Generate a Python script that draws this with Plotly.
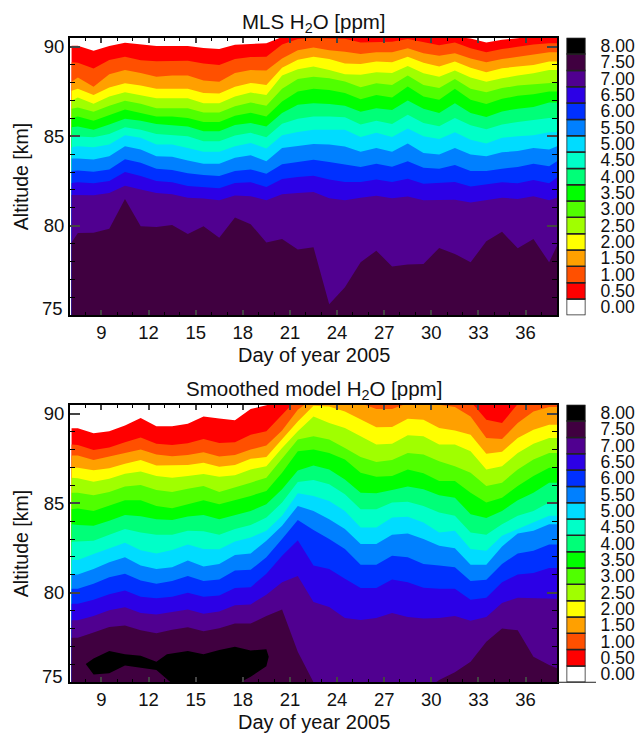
"""MLS and smoothed model H2O contours, day of year against altitude."""

import plotly.graph_objects as go

FONT = "Liberation Sans"
WIDTH, HEIGHT = 640, 734

days = [7.1, 7.5, 8.5, 9.5, 10.5, 11.5, 12.5, 13.5, 14.5, 15.5, 16.5, 17.5, 18.5, 19.5, 20.5, 21.5, 22.5,
        23.5, 24.5, 25.5, 26.5, 27.5, 28.5, 29.5, 30.5, 31.5, 32.5, 33.5, 34.5, 35.5, 36.5, 37.5, 38.0]

levels = [0.0, 0.5, 1.0, 1.5, 2.0, 2.5, 3.0, 3.5, 4.0, 4.5, 5.0, 5.5, 6.0, 6.5, 7.0, 7.5, 8.0]
colors = ["#ffffff", "#ff0000", "#ff5000", "#ffa000", "#ffff00", "#a0ff00", "#50ff00", "#00ff00", "#00ff78",
          "#00ffc8", "#00dcff", "#0080ff", "#0030ff", "#2c00e6", "#500090", "#400040", "#000000"]

# altitude [km] of each contour level, MLS
mls_05 = [90.06, 90.06, 89.78, 90.04, 90.22, 90.11, 90.04, 90.04, 90.04, 89.93, 89.87, 90.11, 90.17, 90.20, 90.54, 90.65, 90.69,
          90.69, 90.67, 90.65, 90.65, 90.65, 90.69, 90.65, 90.59, 90.56, 90.46, 90.24, 90.39, 90.50, 90.57, 90.61, 90.61]
mls_10 = [89.13, 89.11, 88.78, 89.26, 89.44, 89.24, 89.19, 89.22, 89.22, 89.06, 88.98, 89.31, 89.43, 89.44, 90.13, 90.43, 90.50,
          90.46, 90.44, 90.24, 90.24, 90.28, 90.43, 90.24, 90.09, 90.24, 89.91, 89.69, 89.87, 90.00, 90.13, 90.19, 90.19]
mls_15 = [88.05, 88.28, 87.76, 88.46, 88.70, 88.54, 88.33, 88.39, 88.39, 88.11, 88.05, 88.54, 88.70, 88.67, 89.35, 89.81, 89.96,
          89.81, 89.72, 89.59, 89.69, 89.69, 89.91, 89.63, 89.50, 89.63, 89.35, 89.13, 89.31, 89.44, 89.57, 89.69, 89.69]
mls_20 = [87.54, 87.65, 87.31, 87.72, 87.96, 87.83, 87.65, 87.65, 87.65, 87.41, 87.39, 87.76, 87.98, 87.87, 88.83, 89.28, 89.44,
          89.31, 89.07, 89.04, 89.17, 89.13, 89.44, 89.11, 88.89, 89.17, 88.83, 88.57, 88.80, 88.89, 88.98, 89.17, 89.17]
mls_25 = [87.00, 87.17, 86.81, 87.22, 87.46, 87.31, 87.13, 87.13, 87.13, 86.85, 86.85, 87.22, 87.44, 87.30, 88.39, 88.74, 88.89,
          88.70, 88.46, 88.43, 88.57, 88.54, 88.93, 88.52, 88.33, 88.67, 88.28, 88.04, 88.24, 88.39, 88.52, 88.70, 88.70]
mls_30 = [86.54, 86.61, 86.37, 86.70, 86.98, 86.81, 86.57, 86.57, 86.57, 86.33, 86.33, 86.67, 86.89, 86.70, 87.65, 88.20, 88.33,
          88.24, 88.06, 87.74, 87.96, 87.87, 88.39, 87.87, 87.69, 88.20, 87.65, 87.46, 87.69, 87.83, 87.91, 88.00, 88.00]
mls_35 = [86.02, 86.11, 85.87, 86.17, 86.50, 86.30, 86.11, 86.11, 86.02, 85.80, 85.80, 86.15, 86.31, 86.11, 86.94, 87.50, 87.65,
          87.59, 87.41, 87.07, 87.31, 87.17, 87.78, 87.22, 87.04, 87.65, 87.04, 86.80, 87.09, 87.26, 87.35, 87.50, 87.50]
mls_40 = [85.50, 85.54, 85.37, 85.65, 85.98, 85.87, 85.69, 85.61, 85.54, 85.28, 85.28, 85.63, 85.74, 85.54, 86.30, 86.76, 86.85,
          86.80, 86.70, 86.37, 86.57, 86.46, 87.00, 86.54, 86.30, 86.85, 86.30, 86.07, 86.39, 86.54, 86.63, 86.89, 86.89]
mls_45 = [85.02, 84.98, 84.94, 85.13, 85.50, 85.37, 85.13, 85.07, 85.00, 84.72, 84.72, 85.04, 85.19, 84.94, 85.70, 85.98, 86.11,
          86.11, 86.06, 85.65, 85.87, 85.69, 86.20, 85.74, 85.56, 86.02, 85.61, 85.39, 85.65, 85.80, 85.89, 86.02, 86.02]
mls_50 = [84.39, 84.44, 84.39, 84.54, 85.06, 84.91, 84.54, 84.54, 84.35, 84.13, 84.13, 84.44, 84.63, 84.31, 85.06, 85.24, 85.37,
          85.37, 85.37, 84.96, 85.19, 84.96, 85.43, 85.00, 84.85, 85.22, 84.81, 84.59, 84.91, 85.00, 85.06, 85.22, 85.22]
mls_55 = [83.76, 83.76, 83.70, 83.89, 84.44, 84.26, 83.89, 83.85, 83.65, 83.46, 83.46, 83.80, 83.94, 83.61, 84.35, 84.48, 84.57,
          84.54, 84.43, 84.13, 84.35, 84.13, 84.59, 84.07, 83.98, 84.35, 83.98, 83.89, 84.11, 84.17, 84.35, 84.26, 84.44]
mls_60 = [83.06, 83.09, 83.02, 83.15, 83.72, 83.52, 83.19, 83.11, 82.93, 82.83, 82.78, 83.06, 83.15, 82.91, 83.43, 83.57, 83.69,
          83.56, 83.43, 83.28, 83.46, 83.30, 83.61, 83.24, 83.19, 83.39, 83.06, 83.06, 83.19, 83.28, 83.46, 83.33, 83.61]
mls_65 = [82.39, 82.43, 82.37, 82.50, 83.00, 82.78, 82.50, 82.43, 82.22, 82.17, 82.09, 82.39, 82.43, 82.17, 82.61, 82.72, 82.80,
          82.59, 82.44, 82.44, 82.59, 82.44, 82.63, 82.35, 82.41, 82.44, 82.20, 82.30, 82.43, 82.37, 82.56, 82.37, 82.69]
mls_70 = [81.72, 81.72, 81.70, 81.83, 82.24, 82.02, 81.83, 81.76, 81.56, 81.52, 81.43, 81.69, 81.65, 81.43, 81.76, 81.83, 81.89,
          81.54, 81.43, 81.57, 81.67, 81.54, 81.63, 81.43, 81.46, 81.46, 81.30, 81.44, 81.57, 81.50, 81.65, 81.43, 81.57]
mls_75 = [79.07, 79.59, 79.61, 79.83, 81.50, 79.98, 79.93, 80.04, 79.54, 79.98, 79.33, 80.46, 80.09, 79.06, 79.26, 78.67, 78.80,
          75.61, 76.57, 77.96, 78.61, 77.72, 77.83, 77.87, 78.76, 78.43, 77.96, 79.13, 79.67, 78.74, 79.26, 77.96, 78.89]

# altitude [km] of each contour level, smoothed model
mod_05 = [89.19, 89.19, 88.91, 89.02, 89.35, 89.76, 89.30, 89.30, 89.44, 89.85, 89.74, 89.63, 90.26, 90.46, 90.69, 90.96, 91.15,
          91.20, 91.20, 91.20, 91.20, 91.20, 91.20, 91.20, 91.20, 91.20, 91.20, 91.20, 91.20, 91.20, 91.20, 91.20, 91.20]
mod_10 = [88.28, 88.26, 87.98, 88.11, 88.41, 88.67, 88.33, 88.26, 88.35, 88.59, 88.37, 88.41, 88.83, 89.02, 89.94, 90.87, 91.15,
          91.33, 91.15, 90.87, 90.69, 90.69, 90.78, 90.78, 90.78, 90.78, 90.69, 89.67, 89.48, 90.54, 90.69, 90.87, 90.87]
mod_15 = [87.67, 87.67, 87.41, 87.59, 87.81, 88.00, 87.72, 87.63, 87.70, 87.85, 87.61, 87.69, 88.00, 88.22, 89.07, 90.22, 90.87,
          91.15, 90.87, 90.59, 90.26, 90.26, 90.59, 90.59, 90.50, 90.37, 89.85, 88.65, 88.59, 89.48, 90.13, 90.37, 90.37]
mod_20 = [86.98, 86.98, 86.85, 86.96, 87.20, 87.41, 87.11, 87.11, 87.13, 87.26, 87.04, 87.13, 87.48, 87.59, 88.56, 89.57, 90.44,
          90.41, 90.13, 89.67, 89.24, 89.26, 89.72, 89.67, 89.20, 89.06, 88.83, 87.76, 87.87, 88.65, 89.11, 89.39, 89.39]
mod_25 = [86.43, 86.39, 86.20, 86.37, 86.65, 86.78, 86.52, 86.43, 86.52, 86.63, 86.48, 86.56, 86.89, 87.07, 88.09, 89.02, 89.85,
          89.48, 89.20, 88.74, 88.28, 88.33, 88.80, 88.74, 88.28, 88.28, 87.91, 86.89, 87.07, 87.81, 88.33, 88.65, 88.65]
mod_30 = [85.59, 85.59, 85.44, 85.63, 85.93, 86.02, 85.74, 85.63, 85.81, 85.96, 85.63, 85.87, 86.15, 86.43, 87.48, 88.56, 88.74,
          88.56, 88.09, 87.59, 87.31, 87.41, 87.81, 87.72, 87.35, 87.07, 86.70, 85.96, 86.15, 86.89, 87.44, 87.81, 87.81]
mod_35 = [84.67, 84.70, 84.57, 84.85, 85.17, 85.17, 84.85, 84.72, 84.94, 85.17, 84.94, 85.17, 85.41, 85.69, 86.70, 87.91, 88.00,
          87.81, 87.44, 86.70, 86.48, 86.52, 86.89, 86.67, 86.24, 86.24, 85.59, 85.04, 85.31, 85.96, 86.52, 86.98, 86.98]
mod_40 = [83.83, 83.78, 83.74, 84.02, 84.35, 84.28, 84.11, 84.06, 84.26, 84.35, 84.11, 84.35, 84.57, 84.94, 85.78, 86.83, 87.11,
          86.89, 86.33, 85.59, 85.56, 85.74, 85.93, 85.78, 85.44, 85.31, 84.39, 84.17, 84.57, 85.17, 85.59, 86.15, 86.15]
mod_45 = [82.85, 82.87, 82.91, 83.24, 83.56, 83.37, 83.24, 83.24, 83.46, 83.43, 83.24, 83.56, 83.78, 84.20, 85.04, 86.19, 86.30,
          86.06, 85.50, 84.67, 84.67, 85.04, 85.09, 84.85, 84.48, 84.30, 83.37, 83.24, 83.83, 84.30, 84.57, 85.04, 85.04]
mod_50 = [81.85, 81.83, 82.17, 82.48, 82.80, 82.37, 82.20, 82.39, 82.69, 82.44, 82.43, 82.87, 83.09, 83.46, 84.30, 85.56, 85.41,
          85.13, 84.57, 83.65, 83.65, 84.20, 84.24, 83.93, 83.37, 83.46, 82.44, 82.35, 83.19, 83.56, 83.93, 84.30, 84.30]
mod_55 = [81.02, 81.02, 81.33, 81.70, 81.98, 81.52, 81.33, 81.43, 81.80, 81.46, 81.61, 82.11, 82.20, 82.91, 83.74, 84.85, 84.57,
          84.11, 83.56, 82.72, 82.72, 83.24, 83.31, 83.00, 82.63, 82.48, 81.57, 81.57, 82.59, 83.31, 83.46, 83.83, 83.83]
mod_60 = [80.22, 80.22, 80.50, 80.87, 81.06, 80.69, 80.50, 80.65, 80.93, 80.65, 80.74, 81.24, 81.28, 81.98, 83.00, 84.07, 83.50,
          83.00, 82.44, 81.57, 81.57, 82.07, 81.98, 81.61, 81.52, 81.43, 80.65, 80.72, 81.61, 82.20, 82.35, 82.69, 82.69]
mod_65 = [79.39, 79.39, 79.61, 79.91, 80.13, 79.78, 79.70, 79.78, 80.00, 79.78, 79.85, 80.26, 80.31, 81.06, 82.07, 82.94, 81.52,
          81.33, 80.78, 80.26, 80.26, 80.74, 80.59, 80.28, 80.22, 80.22, 79.61, 79.72, 80.59, 81.02, 81.11, 81.39, 81.39]
mod_70 = [78.46, 78.46, 78.70, 79.02, 79.19, 78.87, 78.78, 78.93, 79.07, 78.83, 78.96, 79.30, 79.35, 79.89, 80.59, 80.93, 79.48,
          79.20, 78.59, 78.48, 78.59, 78.87, 78.65, 78.56, 78.59, 78.70, 78.44, 78.65, 79.43, 79.72, 79.70, 79.67, 79.67]
mod_75 = [77.48, 77.48, 77.78, 78.09, 78.17, 77.91, 77.74, 77.93, 78.07, 77.85, 78.02, 78.28, 78.28, 78.70, 79.07, 76.70, 75.00,
          74.48, 74.48, 74.48, 74.48, 74.48, 74.48, 74.48, 75.13, 75.56, 76.15, 77.26, 78.00, 77.91, 76.43, 75.96, 75.78]

# closed 8.0 ppm contour in the model
blob_days = [8.0, 8.5, 9.5, 10.5, 11.5, 12.5, 13.17, 14.5, 15.5, 16.5, 17.5, 18.5, 19.5, 19.65, 19.5, 18.5, 17.85,
             13.4, 12.5, 11.5, 10.5, 9.5, 8.5, 8.0]
blob_alt = [76.02, 76.33, 76.74, 76.56, 76.48, 76.15, 76.56, 76.74, 76.56, 76.80, 76.98, 76.78, 76.85, 76.43, 75.90, 75.31, 75.00,
            75.00, 75.69, 75.81, 75.93, 75.50, 75.44, 76.02]

mls_curves = [mls_05, mls_10, mls_15, mls_20, mls_25, mls_30, mls_35, mls_40,
              mls_45, mls_50, mls_55, mls_60, mls_65, mls_70, mls_75]
mod_curves = [mod_05, mod_10, mod_15, mod_20, mod_25, mod_30, mod_35, mod_40,
              mod_45, mod_50, mod_55, mod_60, mod_65, mod_70, mod_75]

day_ticks = [9, 12, 15, 18, 21, 24, 27, 30, 33, 36]
alt_ticks = [75, 80, 85, 90]


def fx(px):
    return px / WIDTH


def fy(px):
    return 1 - px / HEIGHT


def add_panel(fig, curves, xname, yname):
    # paint from the top down, each contour filled to the bottom with its band colour
    for curve, color in zip(curves, colors[1:]):
        fig.add_trace(go.Scatter(x=days, y=curve, xaxis=xname, yaxis=yname, mode="lines",
                                 line=dict(width=0, color=color), fill="tozeroy", fillcolor=color,
                                 hoverinfo="skip", showlegend=False))


def add_colorbar(fig, xname, yname):
    fig.add_trace(go.Bar(x=[0] * len(levels), y=[0.5] * len(levels), base=[v - 0.25 for v in levels],
                         width=1, xaxis=xname, yaxis=yname, showlegend=False, hoverinfo="skip",
                         marker=dict(color=colors, line=dict(color="#222222", width=1.5))))


def main_axes(top, bottom):
    x = dict(domain=[fx(70), fx(557)], range=[7, 38], tickvals=day_ticks, ticks="inside", ticklen=5,
             tickwidth=1.5, mirror="allticks", showline=True, linewidth=2, linecolor="black", showgrid=False,
             zeroline=False, tickfont=dict(size=18.5, color="#111111"),
             minor=dict(ticks="inside", dtick=1, tick0=0, ticklen=3, tickwidth=1.2, tickcolor="black"))
    y = dict(domain=[fy(bottom), fy(top)], range=[75, 90.5], tickvals=alt_ticks,
             ticktext=["", "80", "85", "90"], ticks="inside", ticklen=10, tickwidth=1.5, mirror="allticks",
             showline=True, linewidth=2, linecolor="black", showgrid=False, zeroline=False,
             tickfont=dict(size=18.5, color="#111111"),
             minor=dict(ticks="inside", dtick=1, tick0=0, ticklen=5, tickwidth=1.2, tickcolor="black"),
             title=dict(text="Altitude [km]", font=dict(size=19.5, color="#111111"), standoff=10))
    return x, y


def bar_axes(top, bottom):
    x = dict(domain=[fx(566.5), fx(585.5)], range=[-0.5, 0.5], visible=False)
    y = dict(domain=[fy(bottom), fy(top)], range=[-0.25, 8.25], side="right", anchor="x3",
             tickvals=levels, ticktext=[f"{v:.2f}" for v in levels], ticks="", showgrid=False, zeroline=False,
             showline=False, ticklabelstandoff=14, tickfont=dict(size=17.6, color="#111111"))
    return x, y


def label(text, xpx, ypx, size):
    return dict(text=text, xref="paper", yref="paper", x=fx(xpx), y=fy(ypx), yanchor="middle",
                showarrow=False, font=dict(size=size, color="#111111"))


fig = go.Figure()
add_panel(fig, mls_curves, "x", "y")
add_panel(fig, mod_curves, "x2", "y2")
fig.add_trace(go.Scatter(x=blob_days, y=blob_alt, xaxis="x2", yaxis="y2", mode="lines", fill="toself",
                         fillcolor="#000000", line=dict(width=0, color="#000000"),
                         hoverinfo="skip", showlegend=False))
add_colorbar(fig, "x3", "y3")
add_colorbar(fig, "x4", "y4")

xa1, ya1 = main_axes(36, 315)
xa2, ya2 = main_axes(405, 684)
xa2["anchor"] = "y2"
ya2["anchor"] = "x2"
xb1, yb1 = bar_axes(36, 315)
xb2, yb2 = bar_axes(405, 684)
xb1["anchor"] = "y3"
xb2["anchor"] = "y4"
yb2["anchor"] = "x4"

fig.update_layout(
    width=WIDTH, height=HEIGHT, autosize=False,
    margin=dict(l=0, r=0, t=0, b=0),
    paper_bgcolor="white", plot_bgcolor="white",
    font=dict(family=FONT, size=18, color="#111111"),
    barmode="overlay", showlegend=False,
    xaxis=xa1, yaxis=ya1, xaxis2=xa2, yaxis2=ya2,
    xaxis3=xb1, yaxis3=yb1, xaxis4=xb2, yaxis4=yb2,
    annotations=[
        label("MLS H<sub>2</sub>O [ppm]", 313.5, 21, 20.5),
        label("Smoothed model H<sub>2</sub>O [ppm]", 313.5, 390, 20.5),
        label("Day of year 2005", 313.5, 355, 20),
        label("Day of year 2005", 313.5, 724, 20),
        dict(text="75", xref="paper", yref="y", x=fx(65), y=75, xanchor="right", yshift=7,
             showarrow=False, font=dict(size=18.5, color="#111111")),
        dict(text="75", xref="paper", yref="y2", x=fx(65), y=75, xanchor="right", yshift=6,
             showarrow=False, font=dict(size=18.5, color="#111111")),
    ],
    shapes=[dict(type="line", xref="paper", yref="paper", x0=fx(557), x1=fx(596), y0=fy(684), y1=fy(684),
                 line=dict(color="#222222", width=1))],
)

# drop the default body margin so the figure fills the window
fig.write_html("out.html", default_width=f"{WIDTH}px", default_height=f"{HEIGHT}px",
               config={"displayModeBar": False},
               post_script="document.body.style.margin = '0';")
